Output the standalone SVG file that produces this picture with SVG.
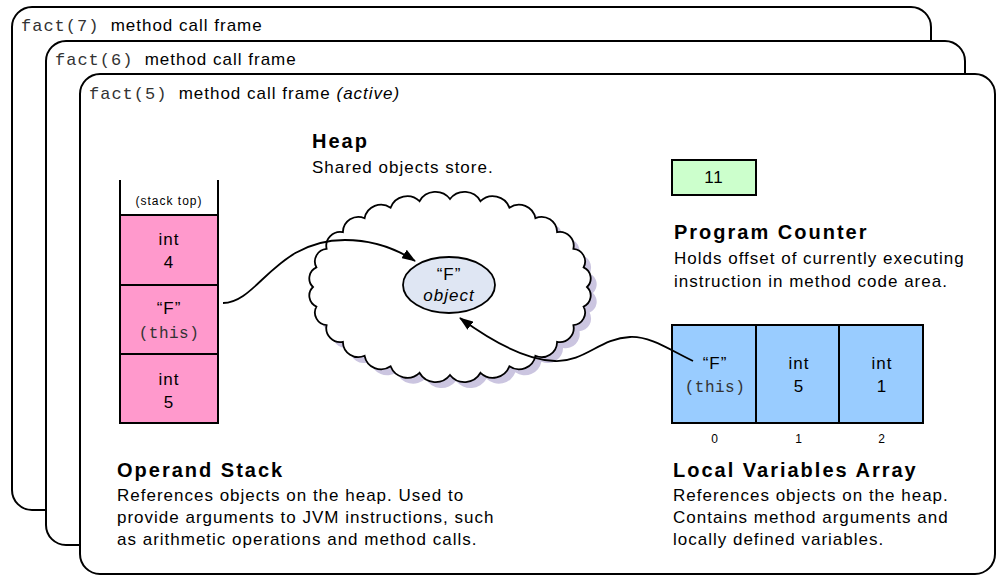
<svg xmlns="http://www.w3.org/2000/svg" width="997" height="575" viewBox="0 0 997 575">
<defs>
<style>
.frame{fill:#fff;stroke:#000;stroke-width:2}
.t{font-family:"Liberation Sans",Arial,sans-serif;font-size:17px;letter-spacing:1px;fill:#000}
.m{font-family:"Liberation Mono","Courier New",monospace;font-size:17px;letter-spacing:1px;fill:#333}
.cm{font-family:"Liberation Mono","Courier New",monospace;font-size:16px;letter-spacing:0.5px;fill:#333}
.b{font-family:"Liberation Sans",Arial,sans-serif;font-size:20px;font-weight:bold;letter-spacing:2px;fill:#000}
.s{font-family:"Liberation Sans",Arial,sans-serif;font-size:12px;letter-spacing:1px;fill:#000}
.c{text-anchor:middle}
.cell{stroke:#000;stroke-width:2}
.conn{fill:none;stroke:#000;stroke-width:1.8}
</style>
<path id="cloud" d="M587,287 A12,12 0 0 1 583.6,306.6 A12.7,12.7 0 0 1 573.4,325.2 A14,14 0 0 1 557.1,341.9 A15.5,15.5 0 0 1 535.4,355.8 A16.7,16.7 0 0 1 509.4,366.3 A17.8,17.8 0 0 1 480.5,372.8 A18.4,18.4 0 0 1 450,375 A18.4,18.4 0 0 1 419.5,372.8 A17.8,17.8 0 0 1 390.6,366.3 A16.7,16.7 0 0 1 364.6,355.8 A15.5,15.5 0 0 1 342.9,341.9 A14,14 0 0 1 326.6,325.2 A12.7,12.7 0 0 1 316.4,306.6 A12,12 0 0 1 313,287 A12,12 0 0 1 316.4,267.4 A12.7,12.7 0 0 1 326.6,248.8 A14,14 0 0 1 342.9,232.1 A15.5,15.5 0 0 1 364.6,218.2 A16.7,16.7 0 0 1 390.6,207.7 A17.8,17.8 0 0 1 419.5,201.2 A18.4,18.4 0 0 1 450,199 A18.4,18.4 0 0 1 480.5,201.2 A17.8,17.8 0 0 1 509.4,207.7 A16.7,16.7 0 0 1 535.4,218.2 A15.5,15.5 0 0 1 557.1,232.1 A14,14 0 0 1 573.4,248.8 A12.7,12.7 0 0 1 583.6,267.4 A12,12 0 0 1 587,287 Z"/>
<marker id="arr" viewBox="0 0 14 10" refX="13" refY="5" markerWidth="14" markerHeight="10" markerUnits="userSpaceOnUse" orient="auto">
<path d="M0,0 L14,5 L0,10 Z" fill="#000"/>
</marker>
</defs>

<g id="frame7">
<rect class="frame" x="12" y="7" width="919" height="503" rx="20"/>
<text x="21" y="31"><tspan class="m">fact(7) </tspan><tspan class="t">method call frame</tspan></text>
</g>
<g id="frame6">
<rect class="frame" x="46" y="41" width="919" height="504" rx="20"/>
<text x="55" y="65"><tspan class="m">fact(6) </tspan><tspan class="t">method call frame</tspan></text>
</g>
<g id="frame5">
<rect class="frame" x="80" y="74" width="915" height="500" rx="20"/>
<text x="89" y="99"><tspan class="m">fact(5) </tspan><tspan class="t">method call frame </tspan><tspan class="t" font-style="italic">(active)</tspan></text>
</g>

<g id="heap">
<use href="#cloud" transform="translate(6,6)" fill="#cbc5e0"/>
<use href="#cloud" fill="#fff" stroke="#000" stroke-width="1.8"/>
<text class="b" x="312" y="148">Heap</text>
<text class="t" x="312" y="173">Shared objects store.</text>
</g>

<g id="object">
<ellipse cx="449" cy="285" rx="46" ry="28" fill="#dfe6f3" stroke="#000" stroke-width="1.8"/>
<text class="t c" x="449" y="280">“F”</text>
<text class="t c" x="449" y="301" font-style="italic">object</text>
</g>

<g id="operand-stack">
<rect x="120" y="215" width="98" height="208" fill="#ff99cc"/>
<path class="cell" fill="none" d="M120,180 V423 H218 V180 M120,215 H218 M120,285 H218 M120,354 H218"/>
<text class="s c" x="169" y="205">(stack top)</text>
<text class="t c" x="169" y="245">int</text>
<text class="t c" x="169" y="268">4</text>
<text class="t c" x="169" y="314">“F”</text>
<text class="cm c" x="169" y="338">(this)</text>
<text class="t c" x="169" y="385">int</text>
<text class="t c" x="169" y="408">5</text>
<text class="b" x="117" y="477">Operand Stack</text>
<text class="t" x="117" y="501">References objects on the heap. Used to</text>
<text class="t" x="117" y="523">provide arguments to JVM instructions, such</text>
<text class="t" x="117" y="545">as arithmetic operations and method calls.</text>
</g>

<g id="program-counter">
<rect class="cell" x="672" y="160" width="84" height="35" fill="#ccffcc"/>
<text class="t c" x="714" y="183">11</text>
<text class="b" x="674" y="239">Program Counter</text>
<text class="t" x="674" y="264">Holds offset of currently executing</text>
<text class="t" x="674" y="287">instruction in method code area.</text>
</g>

<g id="local-variables">
<rect class="cell" x="672" y="325" width="251" height="98" fill="#99ccff"/>
<path class="cell" d="M756,325 V423 M839,325 V423"/>
<text class="t c" x="715" y="369">“F”</text>
<text class="cm c" x="715" y="392">(this)</text>
<text class="t c" x="799" y="369">int</text>
<text class="t c" x="799" y="392">5</text>
<text class="t c" x="882" y="369">int</text>
<text class="t c" x="882" y="392">1</text>
<text class="s c" x="715" y="443">0</text>
<text class="s c" x="799" y="443">1</text>
<text class="s c" x="882" y="443">2</text>
<text class="b" x="673" y="477">Local Variables Array</text>
<text class="t" x="673" y="501">References objects on the heap.</text>
<text class="t" x="673" y="523">Contains method arguments and</text>
<text class="t" x="673" y="545">locally defined variables.</text>
</g>

<g id="connectors">
<path class="conn" marker-end="url(#arr)" d="M223,303 C258,303 275,240 345,240 C375,240 398,250 415,261"/>
<path class="conn" marker-end="url(#arr)" d="M693,361 C670,350 650,336 630,337 C600,338 585,362 555,361 C525,360 490,340 460,318"/>
</g>
</svg>
